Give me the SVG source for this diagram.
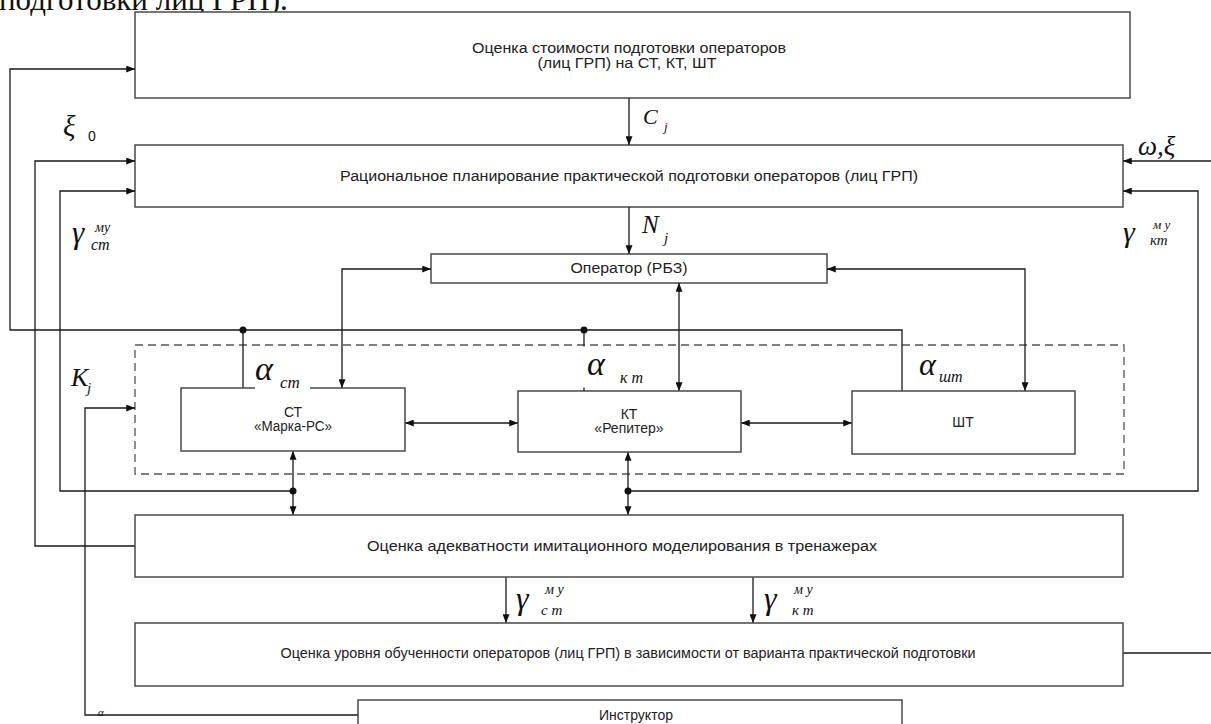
<svg xmlns="http://www.w3.org/2000/svg" width="1211" height="724" viewBox="0 0 1211 724">
<defs>
<marker id="ah" viewBox="0 0 10 8" refX="10" refY="4" markerWidth="9" markerHeight="7" markerUnits="userSpaceOnUse" orient="auto-start-reverse"><path d="M0,0 L10,4 L0,8 z" fill="#111"/></marker>
</defs>
<style>
.box{fill:#fff;stroke:#4a4a4a;stroke-width:1.5}
.dash{fill:none;stroke:#555;stroke-width:1.3;stroke-dasharray:8 5}
.ln{fill:none;stroke:#1a1a1a;stroke-width:1.3}
.dot{fill:#111}
.t{font-family:"Liberation Sans",Arial,sans-serif;font-size:14px;fill:#222;text-anchor:middle}
.m{font-family:"Liberation Serif","Times New Roman",serif;font-style:italic;fill:#111}
.s{font-family:"Liberation Sans",Arial,sans-serif;fill:#111}
.wb{fill:#fff;stroke:none}
</style>
<rect x="0" y="0" width="1211" height="724" fill="#fff"/>
<text x="-1" y="10" font-family="Liberation Serif, Times New Roman, serif" font-size="31" fill="#111">подготовки лиц ГРП).</text>

<g id="n-cost"><rect class="box" x="135" y="12" width="995" height="86"/>
<text class="t" x="629" y="53" font-size="13.5" textLength="314" lengthAdjust="spacingAndGlyphs">Оценка стоимости подготовки операторов</text>
<text class="t" x="627" y="68" font-size="13.5" textLength="179" lengthAdjust="spacingAndGlyphs">(лиц ГРП) на СТ, КТ, ШТ</text></g>

<g id="n-plan"><rect class="box" x="135" y="145" width="988" height="62"/>
<text class="t" x="629" y="181" textLength="578" lengthAdjust="spacingAndGlyphs">Рациональное планирование практической подготовки операторов (лиц ГРП)</text></g>

<g id="n-operator"><rect class="box" x="431" y="254" width="396" height="29"/>
<text class="t" x="629" y="273" font-size="15" textLength="117" lengthAdjust="spacingAndGlyphs">Оператор (РБЗ)</text></g>

<g id="n-simgroup"><rect class="dash" x="135" y="345" width="989" height="129"/></g>

<g id="connectors">
<path class="ln" d="M902,391 V330 H10 V69 H135" marker-end="url(#ah)"/>
<path class="ln" d="M243,330 V388"/>
<path class="ln" d="M584,330 V391"/>
<path class="ln" d="M135,546 H35 V161 H135" marker-end="url(#ah)"/>
<path class="ln" d="M293,491 H60 V191 H135" marker-end="url(#ah)"/>
<path class="ln" d="M628,491 H1198 V191 H1123" marker-end="url(#ah)"/>
<path class="ln" d="M1211,161 H1123" marker-end="url(#ah)"/>
<path class="ln" d="M1123,653 H1211"/>
<path class="ln" d="M629,98 V145" marker-end="url(#ah)"/>
<path class="ln" d="M629,207 V254" marker-end="url(#ah)"/>
<path class="ln" d="M342,388 V269 H431" marker-start="url(#ah)" marker-end="url(#ah)"/>
<path class="ln" d="M1025,391 V269 H827" marker-start="url(#ah)" marker-end="url(#ah)"/>
<path class="ln" d="M679,283 V391" marker-start="url(#ah)" marker-end="url(#ah)"/>
<path class="ln" d="M405,423 H518" marker-start="url(#ah)" marker-end="url(#ah)"/>
<path class="ln" d="M741,423 H852" marker-start="url(#ah)" marker-end="url(#ah)"/>
<path class="ln" d="M293,451 V515" marker-start="url(#ah)" marker-end="url(#ah)"/>
<path class="ln" d="M628,452 V515" marker-start="url(#ah)" marker-end="url(#ah)"/>
<path class="ln" d="M506,577 V623" marker-end="url(#ah)"/>
<path class="ln" d="M753,577 V623" marker-end="url(#ah)"/>
<path class="ln" d="M358,715 H85 V408 H135" marker-end="url(#ah)"/>
<circle class="dot" cx="243" cy="330" r="3.5"/>
<circle class="dot" cx="584" cy="330" r="3.5"/>
<circle class="dot" cx="293" cy="491" r="3.5"/>
<circle class="dot" cx="628" cy="491" r="3.5"/>
</g>

<g id="n-st"><rect class="box" x="181" y="388" width="224" height="63"/>
<text class="t" x="293" y="417" font-size="13.5">СТ</text>
<text class="t" x="293" y="431" font-size="13.5" textLength="78" lengthAdjust="spacingAndGlyphs">«Марка-РС»</text></g>

<g id="n-kt"><rect class="box" x="518" y="391" width="223" height="61"/>
<text class="t" x="629" y="419" font-size="13.5">КТ</text>
<text class="t" x="629" y="433" font-size="13.5">«Репитер»</text></g>

<g id="n-sht"><rect class="box" x="852" y="391" width="223" height="63"/>
<text class="t" x="963" y="427" font-size="14">ШТ</text></g>

<g id="n-adequacy"><rect class="box" x="135" y="515" width="988" height="62"/>
<text class="t" x="622" y="551" textLength="510" lengthAdjust="spacingAndGlyphs">Оценка адекватности имитационного моделирования в тренажерах</text></g>

<g id="n-training"><rect class="box" x="135" y="623" width="988" height="63"/>
<text class="t" x="628" y="658" textLength="695" lengthAdjust="spacingAndGlyphs">Оценка уровня обученности операторов (лиц ГРП) в зависимости от варианта практической подготовки</text></g>

<g id="n-instructor"><rect class="box" x="358" y="700" width="544" height="40"/>
<text class="t" x="636" y="720">Инструктор</text></g>

<g id="labels">
<text class="m" x="643" y="124" font-size="22">C</text>
<text class="m" x="664" y="131" font-size="13">j</text>
<text class="m" x="642" y="233" font-size="25">N</text>
<text class="m" x="664" y="243" font-size="15">j</text>
<text class="m" x="63" y="136" font-size="29">ξ</text>
<text class="s" x="88" y="141" font-size="14">0</text>
<text class="m" x="72" y="243" font-size="31">γ</text>
<text class="m" x="95" y="232" font-size="14">му</text>
<text class="m" x="91" y="250" font-size="16">ст</text>
<text class="m" x="1138" y="155" font-size="27">ω,ξ</text>
<text class="m" x="1123" y="242" font-size="30">γ</text>
<text class="m" x="1153" y="229" font-size="13">м у</text>
<text class="m" x="1150" y="245" font-size="15">кт</text>
<text class="m" x="71" y="386" font-size="26">K</text>
<text class="m" x="87" y="393" font-size="15">j</text>
<rect class="wb" x="255" y="358" width="55" height="31"/>
<text class="m" x="255" y="380" font-size="34">α</text>
<text class="m" x="280" y="388" font-size="17">ст</text>
<rect class="wb" x="566" y="346.5" width="90" height="41"/>
<text class="m" x="587" y="375" font-size="34">α</text>
<text class="m" x="620" y="383" font-size="16">к т</text>
<text class="m" x="919" y="375" font-size="32">α</text>
<text class="m" x="939" y="382" font-size="16">шт</text>
<text class="m" x="516" y="609" font-size="32">γ</text>
<text class="m" x="545" y="594" font-size="14">м у</text>
<text class="m" x="541" y="615" font-size="15">с т</text>
<text class="m" x="764" y="609" font-size="32">γ</text>
<text class="m" x="794" y="594" font-size="14">м у</text>
<text class="m" x="792" y="615" font-size="15">к т</text>
<text class="m" x="98" y="716" font-size="11">α</text>
</g>
</svg>
